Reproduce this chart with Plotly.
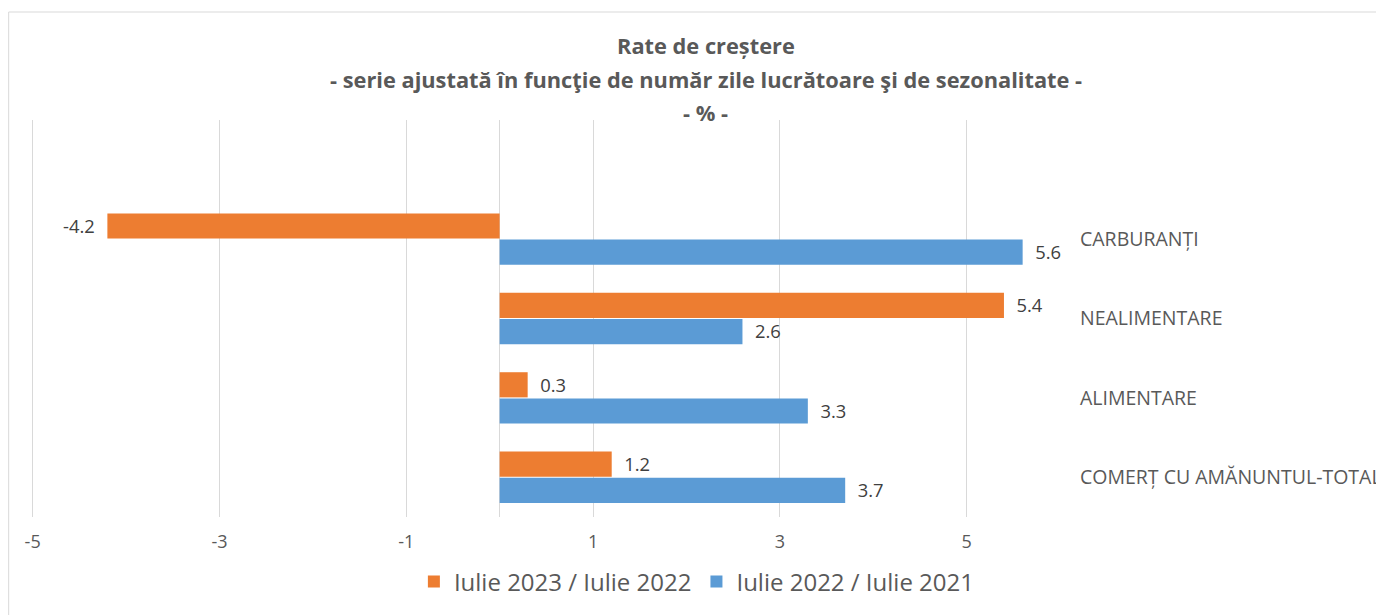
import plotly.graph_objects as go

categories = ["COMERȚ CU AMĂNUNTUL-TOTAL", "ALIMENTARE", "NEALIMENTARE", "CARBURANȚI"]
series_2023 = [1.2, 0.3, 5.4, -4.2]   # Iulie 2023 / Iulie 2022
series_2022 = [3.7, 3.3, 2.6, 5.6]    # Iulie 2022 / Iulie 2021
name_2023 = "Iulie 2023 / Iulie 2022"
name_2022 = "Iulie 2022 / Iulie 2021"
tick_values = [-5, -3, -1, 1, 3, 5]
tick_labels = ["-5", "-3", "-1", "1", "3", "5"]
title_lines = ["Rate de creștere",
               "- serie ajustată în funcţie de număr zile lucrătoare şi de sezonalitate -",
               "- % -"]

OFF = 8  # page body margin
W, H = 1384 - OFF, 615 - OFF
X_MIN, X_MAX = -5.05, 6.0
UNIT = (1060 - 33) / 11.0
L = 33 - OFF - (-5 - X_MIN) * UNIT
R, T, B = 1060 - OFF, 120 - OFF, 517 - OFF  # plot area in figure pixels

def px_x(p):
    return (p - OFF - L) / (R - L)

def px_y(p):
    return (B - (p - OFF)) / (B - T)

FONT = "Open Sans"
GREY = "#595959"
PAD = "\u00a0\u00a0"

def label(v):
    s = f"{v:.1f}"
    return s + PAD if v < 0 else PAD + s

fig = go.Figure()
fig.add_trace(go.Bar(
    y=categories, x=series_2022, orientation="h", name=name_2022,
    marker=dict(color="#5B9BD5", line=dict(width=0)),
    text=[label(v) for v in series_2022], textposition="outside",
    textfont=dict(size=19, color="#404040", family=FONT), cliponaxis=False,
    legendrank=2,
))
fig.add_trace(go.Bar(
    y=categories, x=series_2023, orientation="h", name=name_2023,
    marker=dict(color="#ED7D31", line=dict(width=0)),
    text=[label(v) for v in series_2023], textposition="outside",
    textfont=dict(size=19, color="#404040", family=FONT), cliponaxis=False,
    legendrank=1,
))

annotations = []
for txt, py in zip(title_lines, [45, 79, 112]):
    annotations.append(dict(
        text=f"<b>{txt}</b>", x=px_x(706), xref="paper", y=px_y(py), yref="paper",
        xanchor="center", yanchor="middle", showarrow=False,
        font=dict(size=21.8, color=GREY, family=FONT),
    ))

fig.update_layout(
    width=W, height=H,
    margin=dict(l=L, r=W - R, t=T, b=H - B, autoexpand=False),
    paper_bgcolor="white", plot_bgcolor="white",
    barmode="group", bargap=0.34, bargroupgap=0.04,
    font=dict(family=FONT, color=GREY, size=18),
    showlegend=True,
    legend=dict(orientation="h", x=px_x(697), xanchor="center", y=px_y(582), yanchor="middle",
                font=dict(size=24, color=GREY, family=FONT), itemwidth=30,
                traceorder="normal"),
    annotations=annotations,
    xaxis=dict(range=[X_MIN, X_MAX], tickmode="array", tickvals=tick_values, ticktext=tick_labels,
               showgrid=True, gridcolor="#D9D9D9", automargin=False,
               gridwidth=1, zeroline=True, zerolinecolor="#D9D9D9", zerolinewidth=1,
               showline=False, ticks="", tickfont=dict(size=18, color=GREY, family=FONT),
               ticklabelstandoff=12),
    yaxis=dict(categoryorder="array", categoryarray=categories, range=[-0.5, 4.5],
               side="right", showgrid=False, zeroline=False, showline=False, ticks="",
               automargin=False,
               tickfont=dict(size=19.5, color=GREY, family=FONT), ticklabelstandoff=19),
    shapes=[dict(type="rect", xref="paper", yref="paper",
                 x0=px_x(9), x1=px_x(1420), y0=px_y(660), y1=px_y(12),
                 line=dict(color="#D9D9D9", width=1), fillcolor="rgba(0,0,0,0)", layer="below")],
)

fig.write_html("out.html")
